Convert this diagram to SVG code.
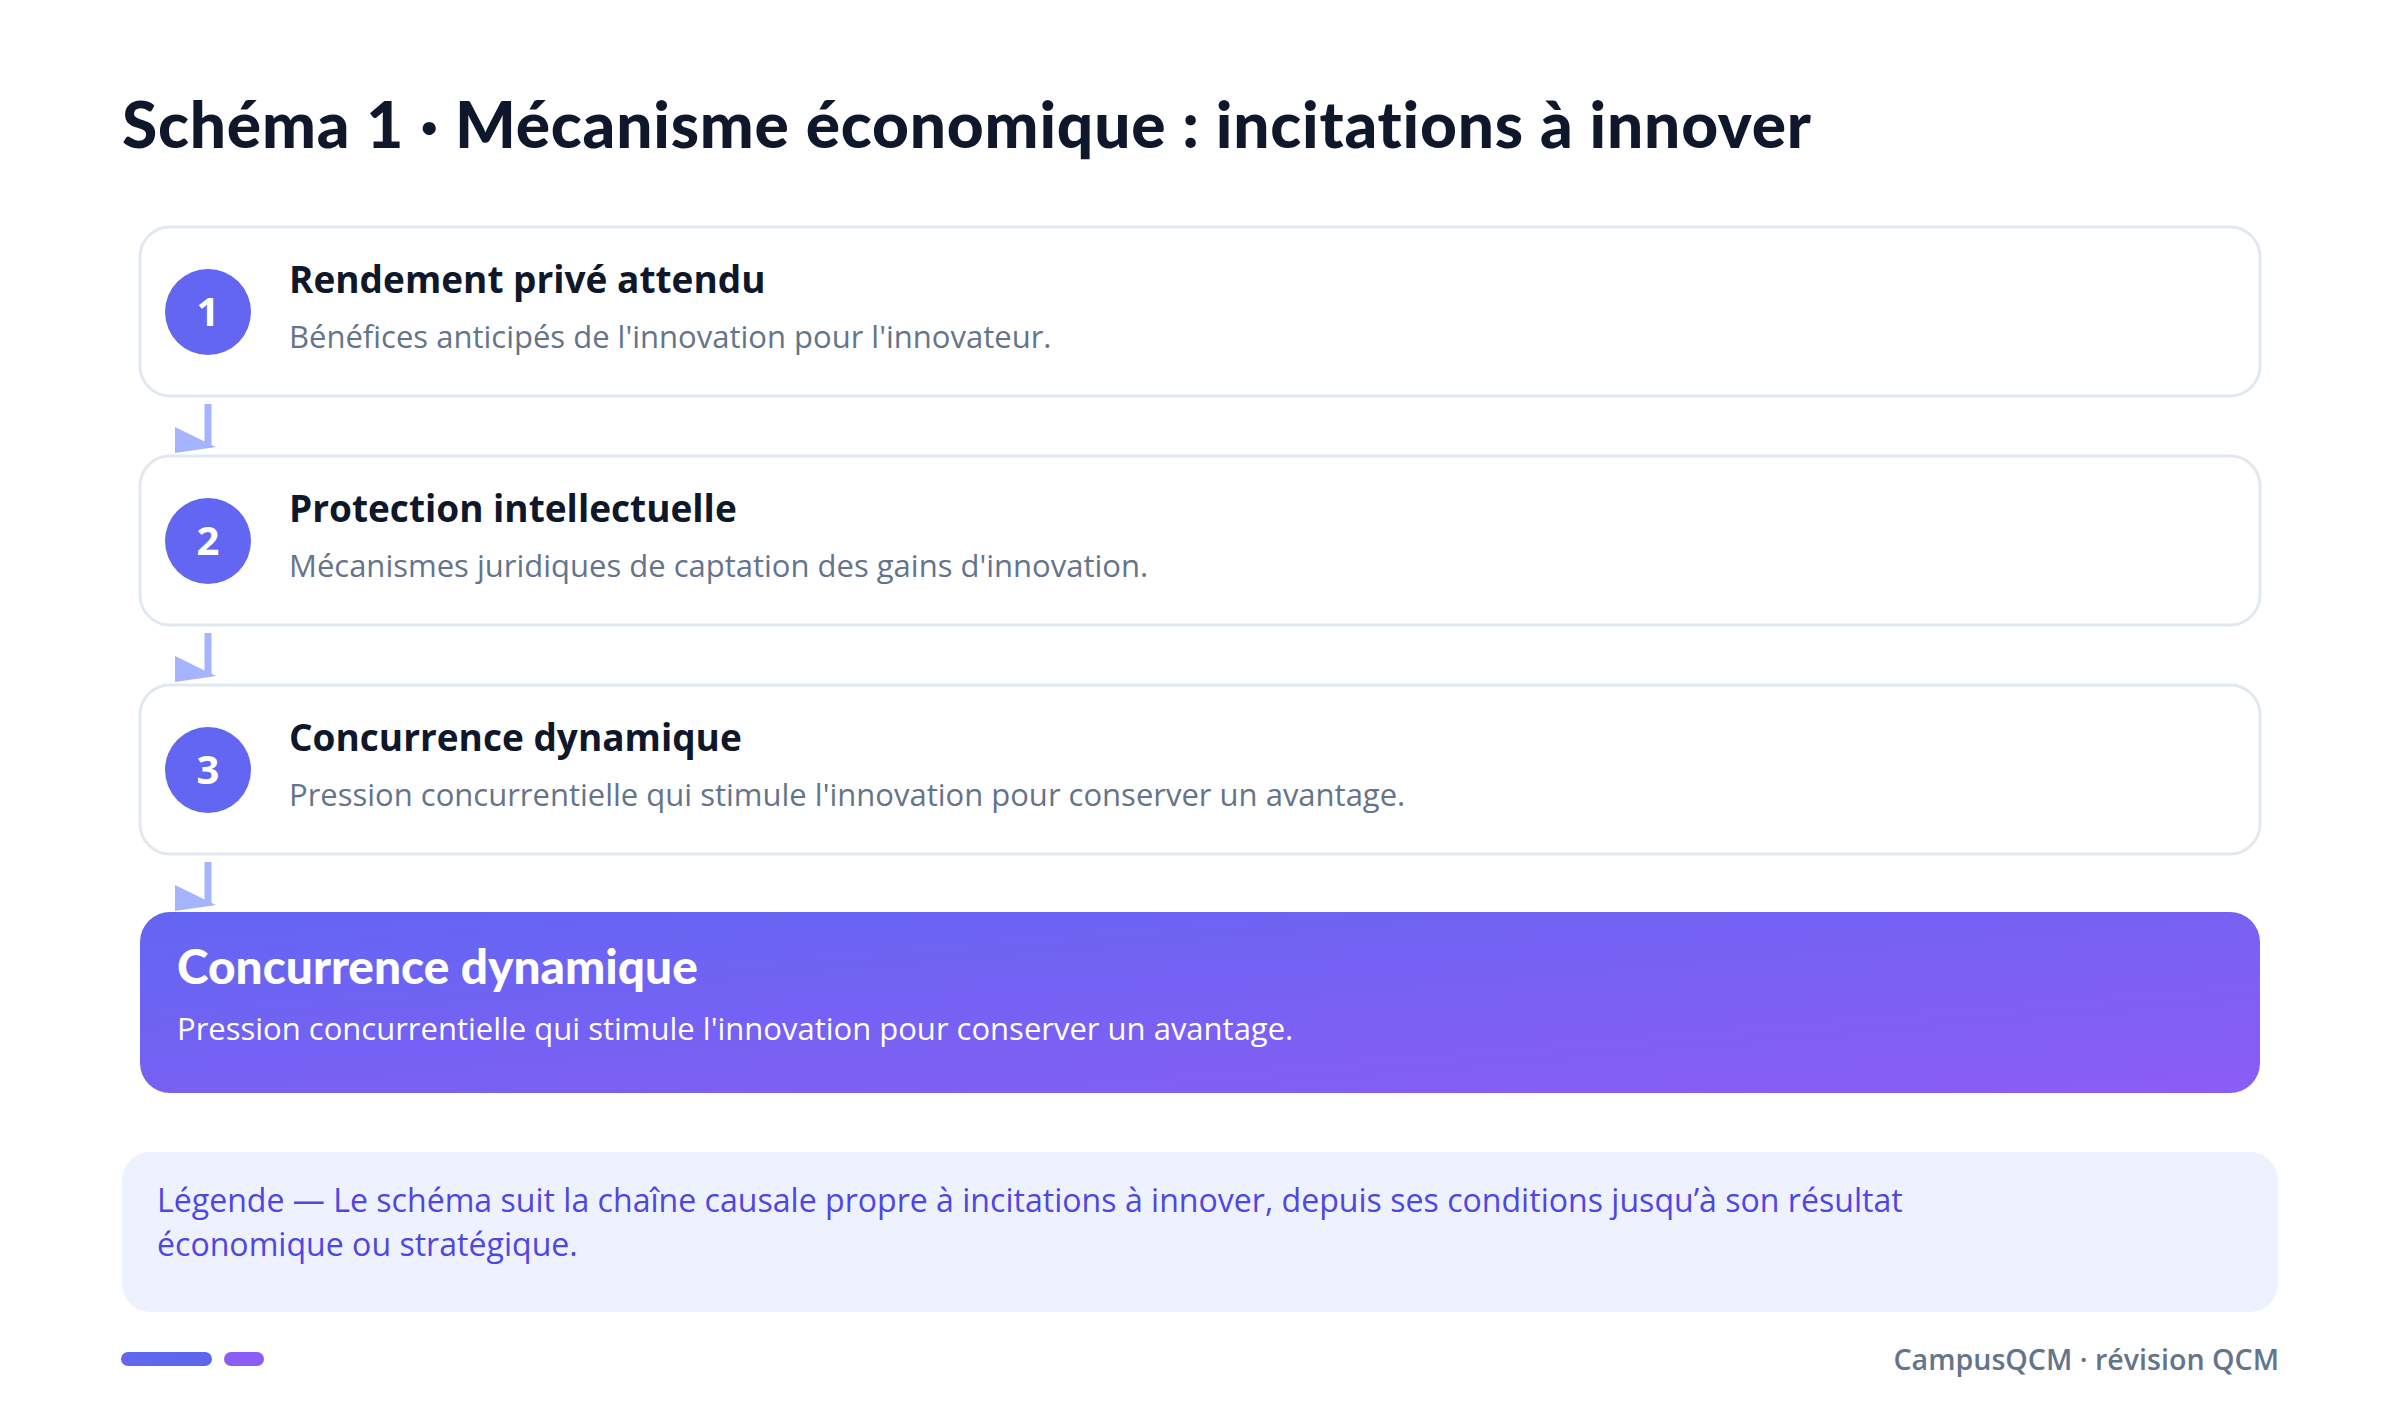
<svg xmlns="http://www.w3.org/2000/svg" width="2400" height="1420" viewBox="0 0 2400 1420">
<defs>
<linearGradient id="gFinal" x1="0" y1="0" x2="1" y2="1">
<stop offset="0" stop-color="#6366f1"/>
<stop offset="1" stop-color="#8b5cf6"/>
</linearGradient>
<linearGradient id="gBar" x1="0" y1="0" x2="1" y2="0">
<stop offset="0" stop-color="#6366f1"/>
<stop offset="1" stop-color="#5b67e8"/>
</linearGradient>
<style>
.title{font-family:Lato,"Liberation Sans",sans-serif;font-weight:900;font-size:64px;letter-spacing:0.8px;fill:#0f172a}
.card{fill:#ffffff;stroke:#e2e8f0;stroke-width:3}
.num{font-family:"Open Sans","Liberation Sans",sans-serif;font-weight:700;font-size:40px;fill:#ffffff}
.head{font-family:"Open Sans","Liberation Sans",sans-serif;font-weight:700;font-size:37px;fill:#0f172a}
.sub{font-family:"Open Sans","Liberation Sans",sans-serif;font-size:31px;fill:#64748b}
.fhead{font-family:Lato,"Liberation Sans",sans-serif;font-weight:900;font-size:47.8px;fill:#ffffff}
.fsub{font-family:"Open Sans","Liberation Sans",sans-serif;font-size:31px;fill:#ffffff}
.leg{font-family:"Open Sans","Liberation Sans",sans-serif;font-size:32.1px;fill:#4f46e5}
.foot{font-family:"Open Sans","Liberation Sans",sans-serif;font-weight:600;font-size:28.6px;fill:#64748b}
.conn line{stroke:#a5b4fc;stroke-width:7}
.conn polygon{fill:#a5b4fc}
</style>
</defs>
<rect x="0" y="0" width="2400" height="1420" fill="#ffffff"/>
<text class="title" x="122" y="148">Schéma 1 · Mécanisme économique : incitations à innover</text>

<g id="connectors" class="conn">
<line x1="208" y1="404" x2="208" y2="448"/>
<polygon points="175,427 175,453 216,447"/>
<line x1="208" y1="633" x2="208" y2="677"/>
<polygon points="175,656 175,682 216,676"/>
<line x1="208" y1="862" x2="208" y2="906"/>
<polygon points="175,885 175,911 216,905"/>
</g>

<g id="node1">
<rect class="card" x="140" y="227" width="2120" height="169" rx="30"/>
<circle cx="208" cy="312" r="43" fill="#6366f1"/>
<text class="num" x="208" y="326" text-anchor="middle">1</text>
<text class="head" x="289" y="293">Rendement privé attendu</text>
<text class="sub" x="289" y="348">Bénéfices anticipés de l'innovation pour l'innovateur.</text>
</g>

<g id="node2">
<rect class="card" x="140" y="456" width="2120" height="169" rx="30"/>
<circle cx="208" cy="541" r="43" fill="#6366f1"/>
<text class="num" x="208" y="555" text-anchor="middle">2</text>
<text class="head" x="289" y="522">Protection intellectuelle</text>
<text class="sub" x="289" y="577">Mécanismes juridiques de captation des gains d'innovation.</text>
</g>

<g id="node3">
<rect class="card" x="140" y="685" width="2120" height="169" rx="30"/>
<circle cx="208" cy="770" r="43" fill="#6366f1"/>
<text class="num" x="208" y="784" text-anchor="middle">3</text>
<text class="head" x="289" y="751">Concurrence dynamique</text>
<text class="sub" x="289" y="806">Pression concurrentielle qui stimule l'innovation pour conserver un avantage.</text>
</g>

<g id="result">
<rect x="140" y="912" width="2120" height="181" rx="30" fill="url(#gFinal)"/>
<text class="fhead" x="177" y="984">Concurrence dynamique</text>
<text class="fsub" x="177" y="1040">Pression concurrentielle qui stimule l'innovation pour conserver un avantage.</text>
</g>

<g id="legend">
<rect x="122" y="1152" width="2156" height="160" rx="28" fill="#eef2ff"/>
<text class="leg" x="157" y="1212">Légende — Le schéma suit la chaîne causale propre à incitations à innover, depuis ses conditions jusqu’à son résultat</text>
<text class="leg" x="157" y="1256">économique ou stratégique.</text>
</g>

<g id="footer">
<rect x="121" y="1352" width="91" height="14" rx="7" fill="url(#gBar)"/>
<rect x="224" y="1352" width="40" height="14" rx="7" fill="#8b5cf6"/>
<text class="foot" x="2279" y="1370" text-anchor="end">CampusQCM · révision QCM</text>
</g>
</svg>
